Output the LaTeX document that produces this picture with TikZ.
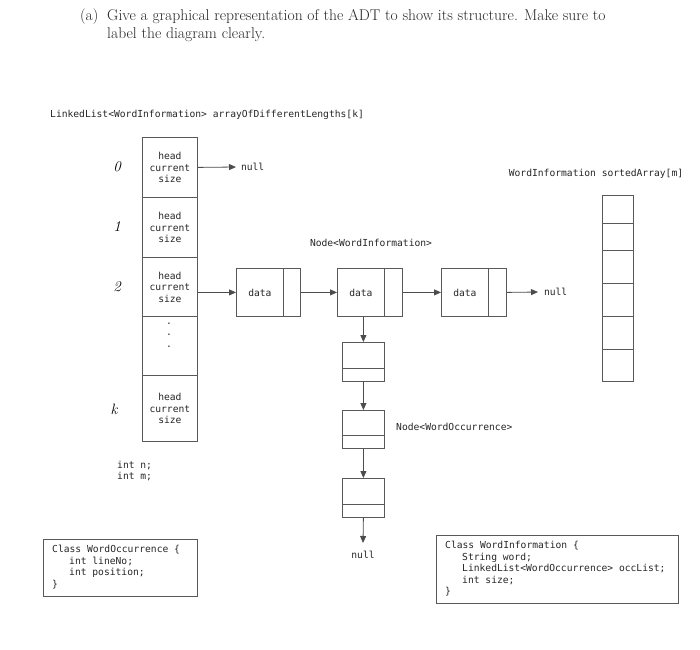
\documentclass[tikz,border=0pt]{standalone}
\usepackage{fontspec}
\setmonofont{DejaVu Sans Mono}
\usetikzlibrary{arrows.meta}
\newcommand\cdfont{\fontsize{9.65}{11.5}\selectfont\ttfamily}
\begin{document}
\begin{tikzpicture}[x=1pt,y=-1pt,
  ln/.style={draw=black!65, line width=0.8pt},
  cell/.style={ln, inner sep=0pt, anchor=north west, align=center, font=\cdfont, text=black!85},
  txt/.style={font=\cdfont, text=black!85, inner sep=0pt},
  ttlfont/.style={anchor=base west, inner sep=0pt, font=\fontsize{15.6}{17}\selectfont, text=black!85},
  idx/.style={font=\fontsize{15}{17}\selectfont\itshape, text=black, inner sep=0pt},
  arr/.style={draw=black!70, line width=0.8pt, -{Triangle[length=7pt,width=6pt]}},
  clsbox/.style={ln, anchor=north west, inner sep=0pt}]
\useasboundingbox (0,0) rectangle (700,649);
% title
\node[ttlfont] (lbl) at (80,20) {(a)};
\node[ttlfont] (ttl1) at (107,20) {Give a graphical representation of the ADT to show its structure. Make sure to};
\node[ttlfont] (ttl2) at (107,38) {label the diagram clearly.};
% array label
\node[txt, anchor=west] (arrlbl) at (50,115) {LinkedList<WordInformation> arrayOfDifferentLengths[k]};
% left array
\node[cell, minimum width=55, minimum height=60] (c0) at (142,137) {head\\current\\size};
\node[cell, minimum width=55, minimum height=60] (c1) at (142,197) {head\\current\\size};
\node[cell, minimum width=55, minimum height=59] (c2) at (142,257) {head\\current\\size};
\node[cell, minimum width=55, minimum height=59] (cd) at (142,316) {};
\node[txt, align=center] (dots) at (169,335) {.\\.\\.};
\node[cell, minimum width=55, minimum height=66] (ck) at (142,375) {head\\current\\size};
% indices
\node[idx] (i0) at (117,167) {0};
\node[idx] (i1) at (117,227) {1};
\node[idx] (i2) at (117,287) {2};
\node[idx] (ik) at (114,409) {k};
% null from cell 0
\node[txt, anchor=west, outer sep=5pt] (n0) at (236,167) {null};
\draw[arr] (c0.east) -- (n0.west);
% data nodes
\node[cell, minimum width=47, minimum height=48] (d1) at (236,268) {data};
\node[cell, minimum width=17, minimum height=48] (p1) at (283,268) {};
\node[cell, minimum width=47, minimum height=48] (d2) at (337,268) {data};
\node[cell, minimum width=18, minimum height=48] (p2) at (384,268) {};
\node[cell, minimum width=47, minimum height=48] (d3) at (441,268) {data};
\node[cell, minimum width=18, minimum height=48] (p3) at (488,268) {};
\node[txt, anchor=west, outer sep=6pt] (n3) at (538,292) {null};
\draw[arr] (c2.east |- d1.west) -- (d1.west);
\draw[arr] (p1.east) -- (d2.west);
\draw[arr] (p2.east) -- (d3.west);
\draw[arr] (p3.east) -- (n3.west);
\node[txt] (nwi) at (371,243) {Node<WordInformation>};
% occurrence chain
\node[cell, minimum width=42, minimum height=26] (b1t) at (342,342) {};
\node[cell, minimum width=42, minimum height=13] (b1b) at (342,368) {};
\node[cell, minimum width=42, minimum height=25] (b2t) at (342,410) {};
\node[cell, minimum width=42, minimum height=13] (b2b) at (342,435) {};
\node[cell, minimum width=42, minimum height=26] (b3t) at (342,478) {};
\node[cell, minimum width=42, minimum height=13] (b3b) at (342,504) {};
\node[txt, anchor=north, outer sep=8pt] (nv) at (363,543) {null};
\draw[arr] (d2.south -| b1t.north) -- (b1t.north);
\draw[arr] (b1b.south) -- (b2t.north);
\draw[arr] (b2b.south) -- (b3t.north);
\draw[arr] (b3b.south) -- (nv.north);
\node[txt, anchor=west] (nwo) at (396,427) {Node<WordOccurrence>};
% sorted array
\node[txt] (salbl) at (596,174) {WordInformation sortedArray[m]};
\node[cell, minimum width=31, minimum height=28] (s1) at (602,195) {};
\node[cell, minimum width=31, minimum height=27] (s2) at (602,223) {};
\node[cell, minimum width=31, minimum height=33] (s3) at (602,250) {};
\node[cell, minimum width=31, minimum height=33] (s4) at (602,283) {};
\node[cell, minimum width=31, minimum height=33] (s5) at (602,316) {};
\node[cell, minimum width=31, minimum height=32] (s6) at (602,349) {};
% ints
\node[txt, anchor=west, align=left] (ints) at (117,471) {int n;\\int m;};
% class boxes
\node[clsbox, minimum width=154, minimum height=57] (cwo) at (43,539) {};
\node[txt, anchor=west, align=left] (cwot) at (52,567)
  {Class WordOccurrence \{\\\hspace*{17pt}int lineNo;\\\hspace*{17pt}int position;\\\}};
\node[clsbox, minimum width=242, minimum height=68] (cwi) at (436,535) {};
\node[txt, anchor=west, align=left] (cwit) at (445,569)
  {Class WordInformation \{\\\hspace*{17pt}String word;\\\hspace*{17pt}LinkedList<WordOccurrence> occList;\\\hspace*{17pt}int size;\\\}};
\end{tikzpicture}
\end{document}
